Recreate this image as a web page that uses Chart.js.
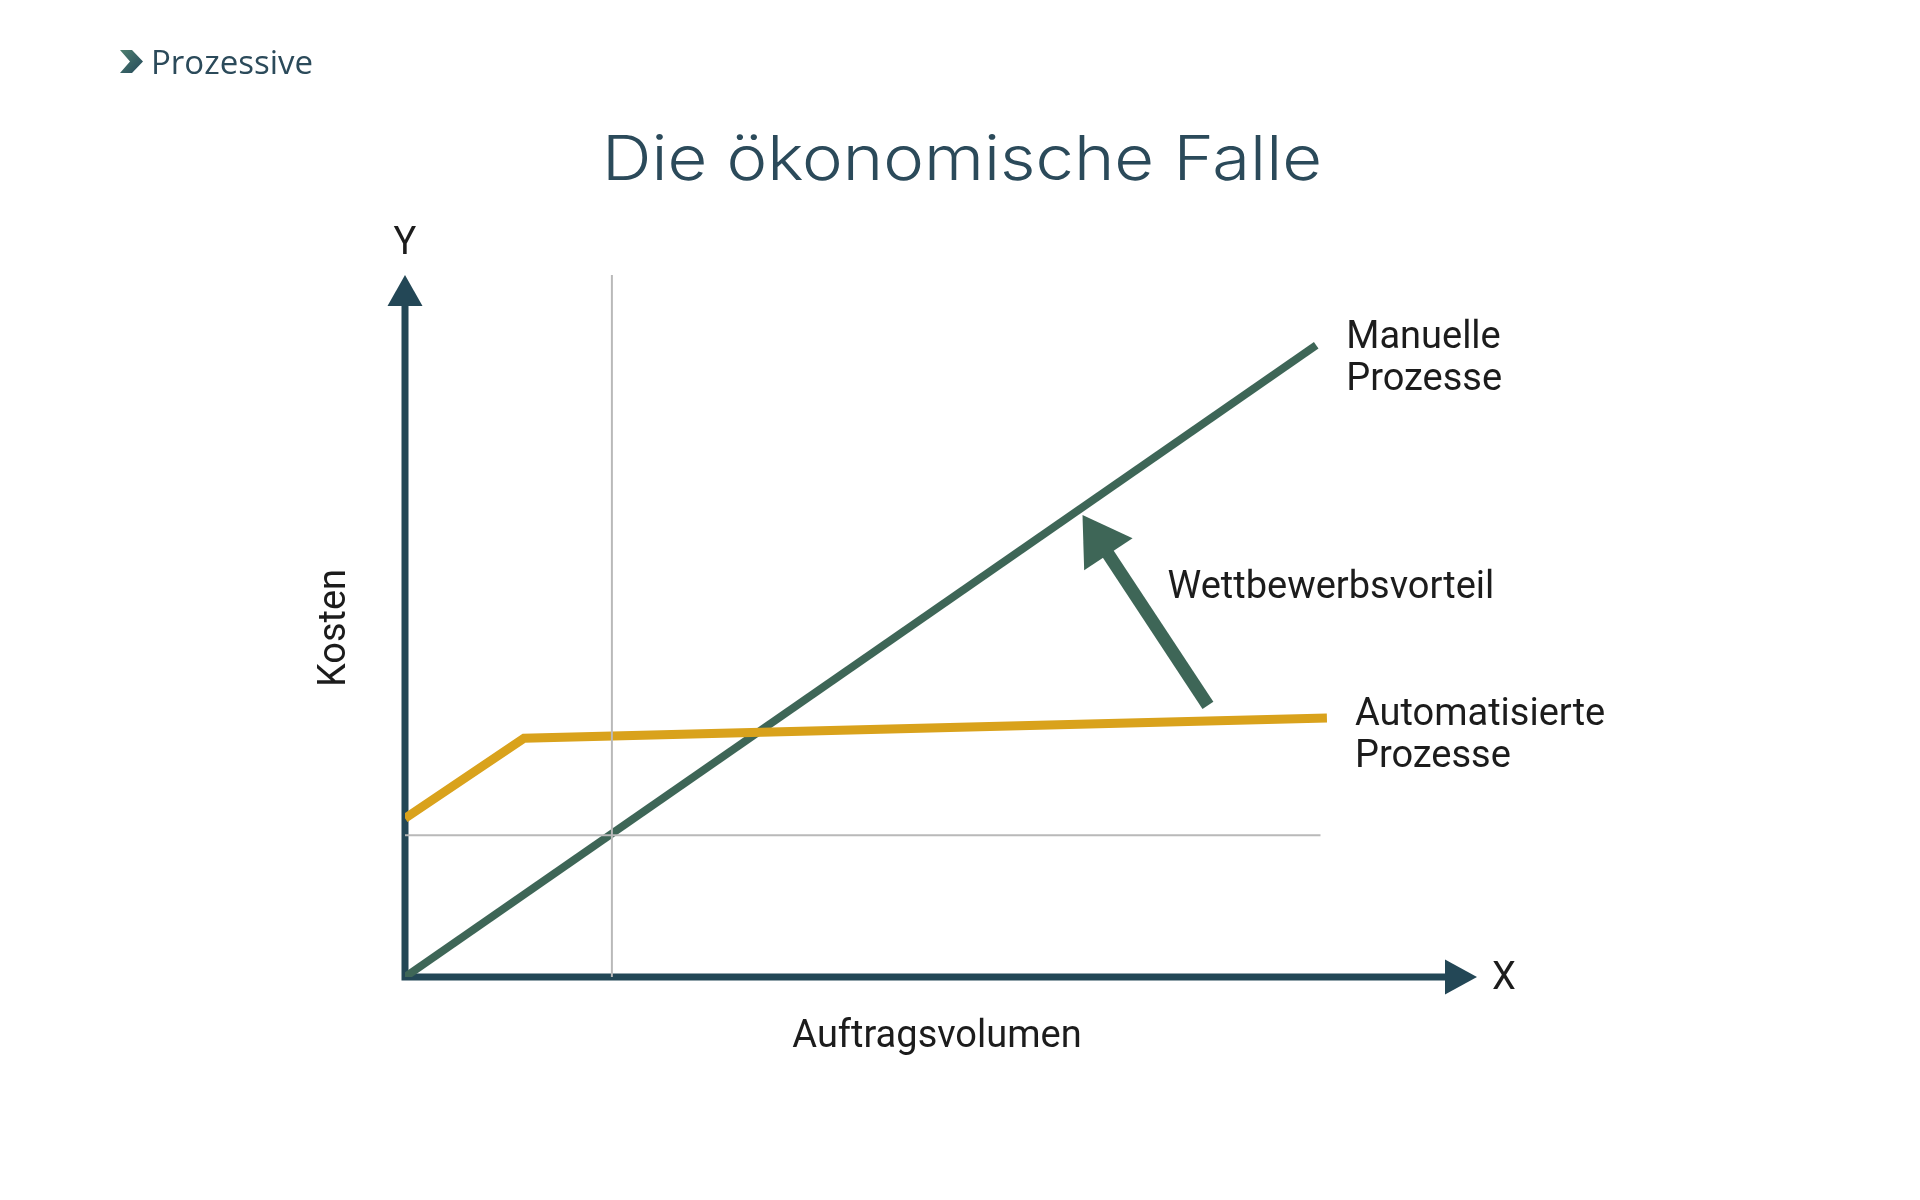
<!DOCTYPE html>
<html lang="de">
<head>
<meta charset="utf-8">
<title>Die ökonomische Falle</title>
<script src="https://cdn.jsdelivr.net/npm/chart.js@4/dist/chart.umd.min.js"></script>
<style>
  html, body { margin: 0; padding: 0; background: #fff; }
  #wrap { position: relative; width: 1920px; height: 1200px; }
</style>
</head>
<body>
<div id="wrap"><canvas id="fallChart"></canvas></div>
<script>
// values, axes run 0..100 on both sides
const manualX = [0, 85];
const manualY = [0, 90];
const autoX = [0, 11.1, 86];
const autoY = [22.6, 34, 36.9];
const refVX = [19.3, 19.3];
const refVY = [0, 100];
const refHX = [0, 85.4];
const refHY = [20.2, 20.2];
const advX = [74.9, 63.2];   // tail -> tip of the "Wettbewerbsvorteil" arrow
const advY = [38.7, 65.8];

const seriesLabels = ['Manuelle\nProzesse', 'Automatisierte\nProzesse'];
const axisNames = { x: 'X', y: 'Y', xTitle: 'Auftragsvolumen', yTitle: 'Kosten' };
const chartTitle = 'Die ökonomische Falle';
const brand = 'Prozessive';

const NAVY = '#234756';
const GREEN = '#3e6657';
const GOLD = '#d9a21c';
const GREY = '#b9b9b9';
const INK = '#1c1c1c';
const LABEL_FONT = '38px Roboto';

const pts = (xs, ys) => xs.map((x, i) => ({ x, y: ys[i] }));

function arrowHead(ctx, x1, y1, x2, y2, len, half) {
    const a = Math.atan2(y2 - y1, x2 - x1);
    ctx.beginPath();
    ctx.moveTo(x2, y2);
    ctx.lineTo(x2 - len * Math.cos(a) + half * Math.sin(a), y2 - len * Math.sin(a) - half * Math.cos(a));
    ctx.lineTo(x2 - len * Math.cos(a) - half * Math.sin(a), y2 - len * Math.sin(a) + half * Math.cos(a));
    ctx.closePath();
    ctx.fill();
}

const axesPlugin = {
    id: 'axesArrows',
    beforeDatasetsDraw(chart) {
        const { ctx, chartArea: a } = chart;
        ctx.save();
        ctx.strokeStyle = NAVY;
        ctx.fillStyle = NAVY;
        ctx.lineWidth = 7;
        ctx.lineCap = 'square';
        ctx.beginPath();
        ctx.moveTo(a.left, a.top + 20);
        ctx.lineTo(a.left, a.bottom);
        ctx.lineTo(a.right - 20, a.bottom);
        ctx.stroke();
        arrowHead(ctx, a.left, a.bottom, a.left, a.top, 31, 17.5);
        arrowHead(ctx, a.left, a.bottom, a.right, a.bottom, 32, 17.5);
        ctx.restore();
    }
};

const textPlugin = {
    id: 'texts',
    afterDatasetsDraw(chart) {
        const { ctx, chartArea: a, scales: { x, y } } = chart;
        ctx.save();

        // competitive advantage arrow
        const tx = x.getPixelForValue(advX[0]), ty = y.getPixelForValue(advY[0]);
        const hx = x.getPixelForValue(advX[1]), hy = y.getPixelForValue(advY[1]);
        const ang = Math.atan2(hy - ty, hx - tx);
        ctx.strokeStyle = GREEN;
        ctx.fillStyle = GREEN;
        ctx.lineWidth = 13;
        ctx.lineCap = 'butt';
        ctx.beginPath();
        ctx.moveTo(tx, ty);
        ctx.lineTo(hx - 40 * Math.cos(ang), hy - 40 * Math.sin(ang));
        ctx.stroke();
        arrowHead(ctx, tx, ty, hx, hy, 47, 29);

        ctx.fillStyle = INK;
        ctx.font = LABEL_FONT;
        ctx.textAlign = 'left';
        ctx.textBaseline = 'alphabetic';

        const mEnd = { px: x.getPixelForValue(manualX[manualX.length - 1]), py: y.getPixelForValue(manualY[manualY.length - 1]) };
        seriesLabels[0].split('\n').forEach((t, i) => ctx.fillText(t, mEnd.px + 30, mEnd.py + 3 + i * 42));
        const aEnd = { px: x.getPixelForValue(autoX[autoX.length - 1]), py: y.getPixelForValue(autoY[autoY.length - 1]) };
        seriesLabels[1].split('\n').forEach((t, i) => ctx.fillText(t, aEnd.px + 28, aEnd.py + 7 + i * 42));

        ctx.fillText('Wettbewerbsvorteil', hx + 85, hy + 83);

        ctx.textAlign = 'center';
        ctx.textBaseline = 'middle';
        ctx.fillText(axisNames.y, a.left, a.top - 31);
        ctx.fillText(axisNames.x, a.right + 27, a.bottom + 2);
        ctx.textBaseline = 'alphabetic';
        ctx.fillText(axisNames.xTitle, 937, a.bottom + 70);
        ctx.save();
        ctx.translate(345, 628);
        ctx.rotate(-Math.PI / 2);
        ctx.fillText(axisNames.yTitle, 0, 0);
        ctx.restore();

        // title, stretched a bit to mimic the wide original face
        ctx.fillStyle = '#2b4a5a';
        ctx.font = '300 62px Inter';
        ctx.textAlign = 'left';
        const w = ctx.measureText(chartTitle).width;
        ctx.save();
        ctx.translate(602, 180);
        ctx.scale(720 / w, 1);
        ctx.fillText(chartTitle, 0, 0);
        ctx.restore();

        // brand mark
        const g = ctx.createLinearGradient(120, 50, 143, 73);
        g.addColorStop(0, '#4f8070');
        g.addColorStop(1, '#24485a');
        ctx.fillStyle = g;
        ctx.beginPath();
        ctx.moveTo(120, 50);
        ctx.lineTo(132, 50);
        ctx.lineTo(143, 61.5);
        ctx.lineTo(132, 73);
        ctx.lineTo(120, 73);
        ctx.lineTo(130, 61.5);
        ctx.closePath();
        ctx.fill();
        ctx.fillStyle = '#2b4a5a';
        ctx.font = '33px "Open Sans"';
        ctx.fillText(brand, 151, 74);

        ctx.restore();
    }
};

const ctx = document.getElementById('fallChart').getContext('2d');
new Chart(ctx, {
    type: 'scatter',
    data: {
        datasets: [
            { label: 'ref v', data: pts(refVX, refVY), showLine: true, borderColor: GREY, borderWidth: 2, pointRadius: 0 },
            { label: 'ref h', data: pts(refHX, refHY), showLine: true, borderColor: GREY, borderWidth: 2, pointRadius: 0 },
            { label: 'Automatisierte Prozesse', data: pts(autoX, autoY), showLine: true, borderColor: GOLD, borderWidth: 9, pointRadius: 0, borderJoinStyle: 'miter' },
            { label: 'Manuelle Prozesse', data: pts(manualX, manualY), showLine: true, borderColor: GREEN, borderWidth: 8, pointRadius: 0 }
        ]
    },
    options: {
        responsive: true,
        maintainAspectRatio: false,
        animation: false,
        layout: { padding: { left: 405, right: 443, top: 275, bottom: 223 } },
        scales: {
            x: { type: 'linear', min: 0, max: 100, display: false },
            y: { type: 'linear', min: 0, max: 100, display: false }
        },
        plugins: {
            legend: { display: false },
            tooltip: { enabled: false }
        }
    },
    plugins: [axesPlugin, textPlugin]
});
</script>
</body>
</html>
